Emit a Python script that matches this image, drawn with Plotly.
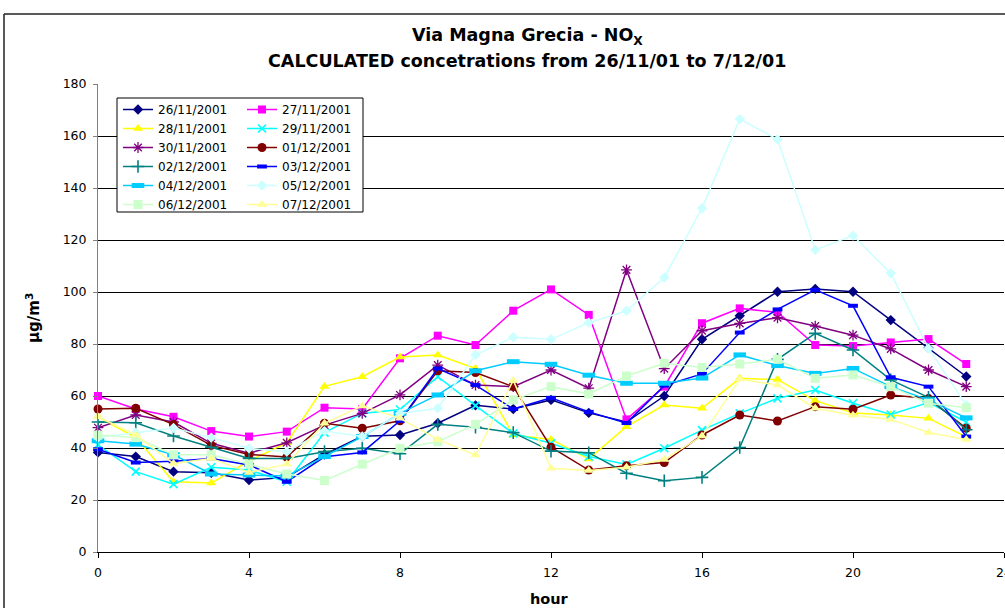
import plotly.graph_objects as go

# Hourly NOx concentrations (µg/m³), Via Magna Grecia, 26/11/2001 - 07/12/2001
hours = list(range(24))

d_26_11 = [38.3, 36.7, 30.9, 30.5, 27.7, 28.7, 37.5, 44.5, 45.0, 49.5, 56.4, 55.0,
           58.5, 53.5, 50.0, 60.0, 81.8, 90.9, 100.1, 101.2, 100.1, 89.2, 78.5, 67.5]
d_27_11 = [60.0, 55.0, 52.0, 46.5, 44.4, 46.3, 55.5, 55.0, 74.5, 83.2, 79.6, 92.8,
           101.0, 91.2, 51.0, 63.6, 88.0, 93.7, 92.2, 79.6, 79.2, 80.6, 81.9, 72.3]
d_28_11 = [52.0, 44.0, 27.0, 26.5, 35.0, 42.0, 63.7, 67.4, 75.0, 75.8, 70.6, 45.0,
           43.3, 35.8, 48.2, 56.5, 55.3, 66.8, 66.3, 58.2, 53.5, 52.7, 51.4, 44.3]
d_29_11 = [41.2, 30.9, 26.1, 32.6, 31.5, 27.0, 45.9, 53.3, 54.8, 67.4, 56.3, 45.6,
           41.8, 36.7, 33.7, 39.9, 46.9, 53.3, 59.1, 62.3, 57.2, 52.9, 57.5, 50.0]
d_30_11 = [47.8, 52.7, 50.0, 41.8, 38.0, 42.0, 48.8, 53.3, 60.4, 71.9, 64.2, 63.6,
           70.0, 63.0, 108.5, 70.5, 85.1, 87.9, 90.1, 86.9, 83.4, 78.1, 70.0, 63.6]
d_01_12 = [55.0, 55.3, 49.0, 41.0, 37.5, 36.5, 49.5, 47.6, 50.5, 69.7, 69.0, 63.6,
           40.3, 31.5, 33.2, 34.4, 45.0, 52.7, 50.4, 55.9, 54.9, 60.4, 59.0, 47.6]
d_02_12 = [50.0, 49.7, 44.6, 40.3, 36.0, 36.0, 38.6, 39.9, 37.8, 49.1, 48.0, 45.9,
           38.8, 38.2, 30.3, 27.4, 28.7, 40.2, 74.1, 84.1, 77.7, 66.2, 59.5, 47.0]
d_03_12 = [39.5, 34.4, 34.9, 36.0, 33.5, 27.0, 36.6, 38.3, 50.5, 70.6, 64.2, 55.0,
           59.3, 53.9, 49.6, 64.0, 68.5, 84.4, 93.3, 100.8, 94.7, 67.2, 63.6, 44.4]
d_04_12 = [42.8, 41.5, 37.4, 30.0, 29.6, 29.2, 36.7, 44.4, 53.3, 60.4, 69.7, 73.2,
           72.2, 68.0, 64.9, 64.9, 66.9, 75.8, 71.7, 68.7, 70.6, 63.6, 58.5, 51.6]
d_05_12 = [44.0, 45.9, 47.7, 44.0, 39.9, 38.6, 46.5, 44.4, 53.3, 55.3, 75.8, 82.6,
           81.8, 88.2, 92.8, 105.6, 132.2, 166.5, 158.7, 116.2, 121.7, 107.2, 78.3, 56.5]
d_06_12 = [45.0, 44.0, 37.4, 37.4, 33.8, 30.0, 27.5, 33.8, 39.9, 42.4, 49.1, 58.5,
           63.6, 60.8, 67.7, 72.6, 71.0, 72.3, 74.1, 66.8, 68.1, 63.6, 57.2, 55.5]
d_07_12 = [52.0, 45.0, 34.0, 36.0, 30.6, 33.8, 49.5, 56.2, 51.4, 43.3, 37.3, 66.0,
           32.2, 31.3, 32.6, 35.6, 44.6, 66.5, 64.2, 55.3, 52.6, 51.0, 46.0, 43.3]

x_ticks = [0, 4, 8, 12, 16, 20, 24]
y_ticks = [0, 20, 40, 60, 80, 100, 120, 140, 160, 180]

FONT = "DejaVu Sans"

# name, values, colour, marker symbol, marker size, outline width, legend
series = [
    ("26/11/2001", d_26_11, "#000080", "diamond", 8, 0, "legend"),
    ("27/11/2001", d_27_11, "#FF00FF", "square", 8, 0, "legend2"),
    ("28/11/2001", d_28_11, "#FFFF00", "triangle-up", 9, 0, "legend"),
    ("29/11/2001", d_29_11, "#00FFFF", "x-thin-open", 8, 1.6, "legend2"),
    ("30/11/2001", d_30_11, "#800080", "asterisk-open", 9, 1.3, "legend"),
    ("01/12/2001", d_01_12, "#800000", "circle", 9, 0, "legend2"),
    ("02/12/2001", d_02_12, "#008080", "cross-thin-open", 9, 1.6, "legend"),
    ("03/12/2001", d_03_12, "#0000FF", "line-ew-open", 7, 4, "legend2"),
    ("04/12/2001", d_04_12, "#00CCFF", "line-ew-open", 9, 5, "legend"),
    ("05/12/2001", d_05_12, "#CCFFFF", "diamond", 8, 0, "legend2"),
    ("06/12/2001", d_06_12, "#CCFFCC", "square", 9, 0, "legend"),
    ("07/12/2001", d_07_12, "#FFFF99", "triangle-up", 9, 0, "legend2"),
]

fig = go.Figure()
for name, vals, col, sym, size, lw, leg in series:
    fig.add_trace(go.Scatter(
        x=hours, y=vals, name=name, mode="lines+markers",
        line=dict(color=col, width=1.5),
        marker=dict(symbol=sym, size=size, color=col,
                    line=dict(color=col, width=lw)),
        legend=leg, cliponaxis=False,
    ))

W, H = 1005, 608
L, T, R, B = 98, 84, 1, 56
pw, ph = W - L - R, H - T - B


def px(xp):
    return (xp - L) / pw


def py(yp):
    return (H - B - yp) / ph


legend_style = dict(
    font=dict(family=FONT, size=12, color="black"),
    bgcolor="rgba(0,0,0,0)", borderwidth=0,
    xanchor="left", yanchor="top", orientation="v",
    tracegroupgap=0, itemwidth=30,
)

fig.update_layout(
    width=W, height=H,
    margin=dict(l=L, r=R, t=T, b=B, pad=0, autoexpand=False),
    paper_bgcolor="white", plot_bgcolor="white",
    font=dict(family=FONT, size=12.5, color="black"),
    showlegend=True,
    legend=dict(x=px(118), y=py(95), **legend_style),
    legend2=dict(x=px(242), y=py(95), **legend_style),
    xaxis=dict(
        range=[0, 24], tickvals=x_ticks, ticktext=[str(v) for v in x_ticks],
        showgrid=False, zeroline=False, automargin=False,
        showline=True, linecolor="black", linewidth=1,
        ticks="outside", ticklen=5, tickcolor="black",
        tickfont=dict(family=FONT, size=12.5, color="black"),
        ticklabelstandoff=4, ticklabeloverflow="allow",
    ),
    yaxis=dict(
        range=[0, 180], tickvals=y_ticks, automargin=False,
        showgrid=True, gridcolor="black", gridwidth=1,
        zeroline=False,
        showline=True, linecolor="#808080", linewidth=1,
        ticks="outside", ticklen=4, tickcolor="#808080",
        tickfont=dict(family=FONT, size=12.5, color="black"),
        ticklabelstandoff=4,
    ),
    shapes=[
        # outer chart frame
        dict(type="line", xref="paper", yref="paper",
             x0=px(4), x1=px(1010), y0=py(14), y1=py(14),
             line=dict(color="#222222", width=1.5)),
        dict(type="line", xref="paper", yref="paper",
             x0=px(4), x1=px(4), y0=py(14), y1=py(620),
             line=dict(color="#222222", width=1.5)),
        # legend box
        dict(type="rect", xref="paper", yref="paper", layer="above",
             x0=px(117), x1=px(363), y0=py(98), y1=py(212),
             fillcolor="white", line=dict(color="black", width=1)),
    ],
    annotations=[
        dict(text="<b>Via Magna Grecia - NO<sub>X</sub></b>",
             xref="paper", yref="paper", x=px(527), y=py(37),
             xanchor="center", yanchor="middle", showarrow=False,
             font=dict(family=FONT, size=17.5, color="black")),
        dict(text="<b>CALCULATED concetrations from 26/11/01 to 7/12/01</b>",
             xref="paper", yref="paper", x=px(527), y=py(61),
             xanchor="center", yanchor="middle", showarrow=False,
             font=dict(family=FONT, size=17.5, color="black")),
        dict(text="<b>hour</b>", xref="paper", yref="paper",
             x=px(549), y=py(599), xanchor="center", yanchor="middle",
             showarrow=False, font=dict(family=FONT, size=14.5, color="black")),
        dict(text="<b>µg/m<sup>3</sup></b>", xref="paper", yref="paper",
             x=px(33), y=py(318), xanchor="center", yanchor="middle",
             textangle=-90, showarrow=False,
             font=dict(family=FONT, size=15, color="black")),
    ],
)

fig.write_html("out.html")
